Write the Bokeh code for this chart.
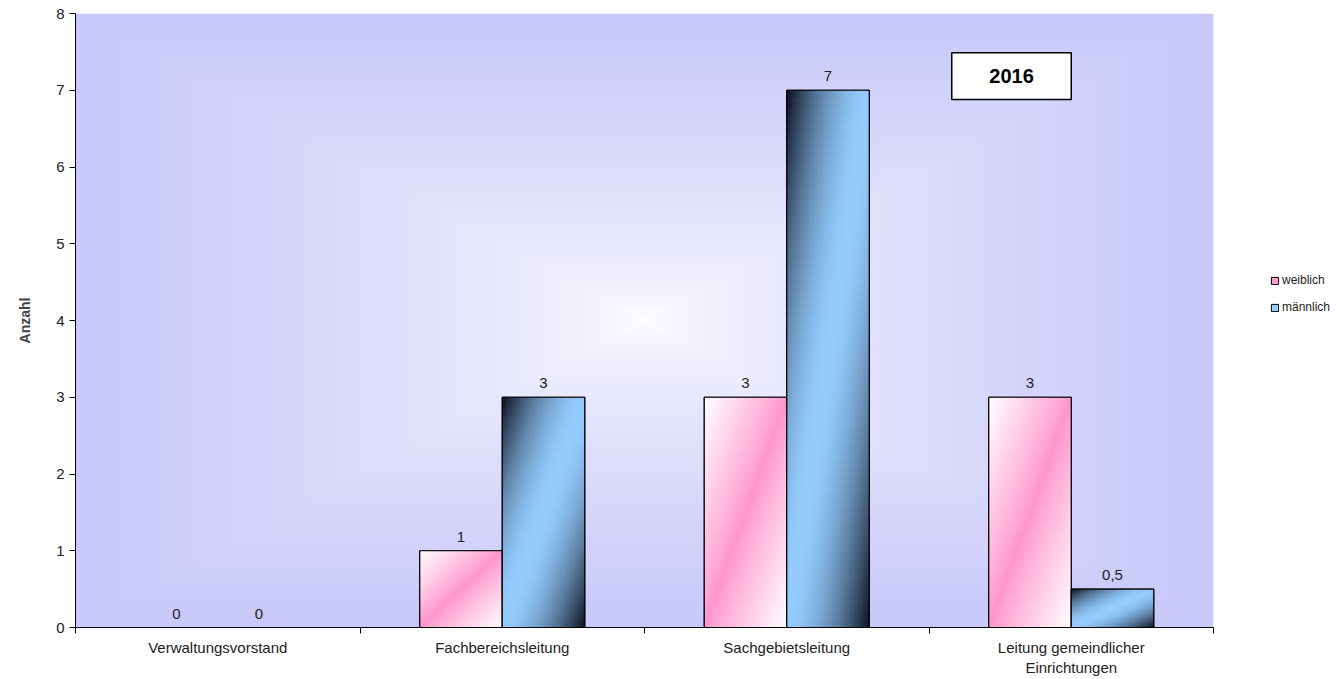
import numpy as np
from bokeh.plotting import figure
from bokeh.models import Range1d, FixedTicker, Legend, LegendItem, Label, BoxAnnotation, ColumnDataSource
from bokeh.embed import file_html
from bokeh.resources import INLINE
from bokeh.core.properties import value

# ---- data ----
categories = ["Verwaltungsvorstand", "Fachbereichsleitung", "Sachgebietsleitung",
              "Leitung gemeindlicher\nEinrichtungen"]
weiblich = [0, 1, 3, 3]
maennlich = [0, 3, 7, 0.5]
series_names = ["weiblich", "männlich"]
y_ticks = [0, 1, 2, 3, 4, 5, 6, 7, 8]
year_label = "2016"

FONT = "Liberation Sans"
PINK = "#FF99CC"
BLUE = "#99CCFF"
BAR_W = 0.29
OFFS = [-BAR_W / 2, BAR_W / 2]

n = len(categories)
centers = [i + 0.5 for i in range(n)]

p = figure(frame_width=1138, frame_height=614, x_range=Range1d(0, n), y_range=Range1d(0, 8),
           output_backend="svg", toolbar_location=None,
           min_border_left=75, min_border_top=13, min_border_bottom=30, min_border_right=10)
p.outline_line_color = None
p.xgrid.visible = False
p.ygrid.visible = False
p.background_fill_color = "white"


def rgba_img(arr):
    h, w, _ = arr.shape
    img = np.empty((h, w), dtype=np.uint32)
    v = img.view(dtype=np.uint8).reshape((h, w, 4))
    v[:, :, :3] = np.clip(arr, 0, 255).astype(np.uint8)
    v[:, :, 3] = 255
    return img


# background: rectangular "from centre" gradient white -> lavender
H, W = 160, 200
yy, xx = np.mgrid[0:H, 0:W]
u = np.abs((xx + 0.5) / W * 2 - 1)
vv = np.abs((yy + 0.5) / H * 2 - 1)
t = np.maximum(u, vv) ** 0.65
edge = np.array([200, 200, 250])
whitec = np.array([255, 255, 255])
bg = whitec[None, None, :] * (1 - t[..., None]) + edge[None, None, :] * t[..., None]
p.image_rgba(image=[rgba_img(bg)], x=0, y=0, dw=n, dh=8)


def diag_grad(center_col, corner_col, gamma, size=64):
    # diagonal gradient: corner colour at top-left and bottom-right, centre colour on the diagonal
    yy, xx = np.mgrid[0:size, 0:size]
    xn = (xx + 0.5) / size
    yn = (yy + 0.5) / size          # row 0 = bottom in bokeh images
    s = (xn + (1 - yn)) / 2
    d = np.abs(s - 0.5) * 2
    d = d ** gamma
    c0 = np.array(center_col, dtype=float)
    c1 = np.array(corner_col, dtype=float)
    return c0[None, None, :] * (1 - d[..., None]) + c1[None, None, :] * d[..., None]


pink_grad = rgba_img(diag_grad((255, 150, 205), (255, 255, 255), 0.9))
blue_grad = rgba_img(diag_grad((150, 205, 255), (10, 15, 30), 1.7))

series = [weiblich, maennlich]
colors = [PINK, BLUE]
grads = [pink_grad, blue_grad]
legend_items = []
for s, (vals, col, grad, off) in enumerate(zip(series, colors, grads, OFFS)):
    xs = [c + off for c in centers]
    src = ColumnDataSource(dict(x=xs, top=vals,
                                lbl=[(f"{v:g}").replace(".", ",") for v in vals]))
    r = p.vbar(x="x", top="top", width=BAR_W, source=src, fill_color=col,
               line_color="black", line_width=1)
    legend_items.append(LegendItem(label=series_names[s], renderers=[r]))
    isrc = ColumnDataSource(dict(image=[grad] * n, x=[x - BAR_W / 2 for x in xs],
                                 dw=[BAR_W] * n, dh=vals))
    p.image_rgba(image="image", x="x", y=0, dw="dw", dh="dh", source=isrc)
    p.vbar(x="x", top="top", width=BAR_W, source=src, fill_alpha=0,
           line_color="black", line_width=1.2)
    p.text(x="x", y="top", text="lbl", source=src, text_align="center",
           text_baseline="bottom", y_offset=-9, text_font=value(FONT),
           text_font_size="15px", text_color="#222222")

# axes
xa = p.xaxis[0]
xa.ticker = FixedTicker(ticks=centers, minor_ticks=list(range(n + 1)))
xa.major_label_overrides = {c: lab for c, lab in zip(centers, categories)}
xa.major_tick_out = 0
xa.major_tick_in = 0
xa.minor_tick_out = 6
xa.minor_tick_in = 0
xa.minor_tick_line_color = "black"
xa.axis_line_color = "black"
xa.major_label_text_font = FONT
xa.major_label_text_font_size = "15px"
xa.major_label_text_color = "#222222"
xa.major_label_standoff = 5

ya = p.yaxis[0]
ya.ticker = FixedTicker(ticks=y_ticks)
ya.minor_tick_line_color = None
ya.major_tick_out = 6
ya.major_tick_in = 0
ya.major_tick_line_color = "black"
ya.axis_line_color = "black"
ya.major_label_text_font = FONT
ya.major_label_text_font_size = "15px"
ya.major_label_text_color = "#222222"
ya.major_label_standoff = 5
ya.axis_label = "Anzahl"
ya.axis_label_text_font = FONT
ya.axis_label_text_font_style = "bold"
ya.axis_label_text_font_size = "14px"
ya.axis_label_standoff = 20

# year box
p.add_layout(BoxAnnotation(left=3.08, right=3.50, bottom=6.88, top=7.49,
                           fill_color="white", fill_alpha=1, line_color="black",
                           line_alpha=1, line_width=1.5))
p.add_layout(Label(x=3.29, y=7.185, text=year_label, text_align="center", text_baseline="middle",
                   text_font=FONT, text_font_style="bold", text_font_size="20px", text_color="black"))

legend = Legend(items=legend_items, location=(57, 313), orientation="vertical")
legend.border_line_color = None
legend.background_fill_alpha = 0
legend.padding = 0
legend.margin = 0
legend.spacing = 13
legend.glyph_width = 9
legend.glyph_height = 9
legend.label_height = 14
legend.label_standoff = 3
legend.label_text_font = FONT
legend.label_text_font_size = "12px"
legend.label_text_color = "#222222"
p.add_layout(legend, "right")

open("out.html", "w").write(file_html(p, INLINE))
